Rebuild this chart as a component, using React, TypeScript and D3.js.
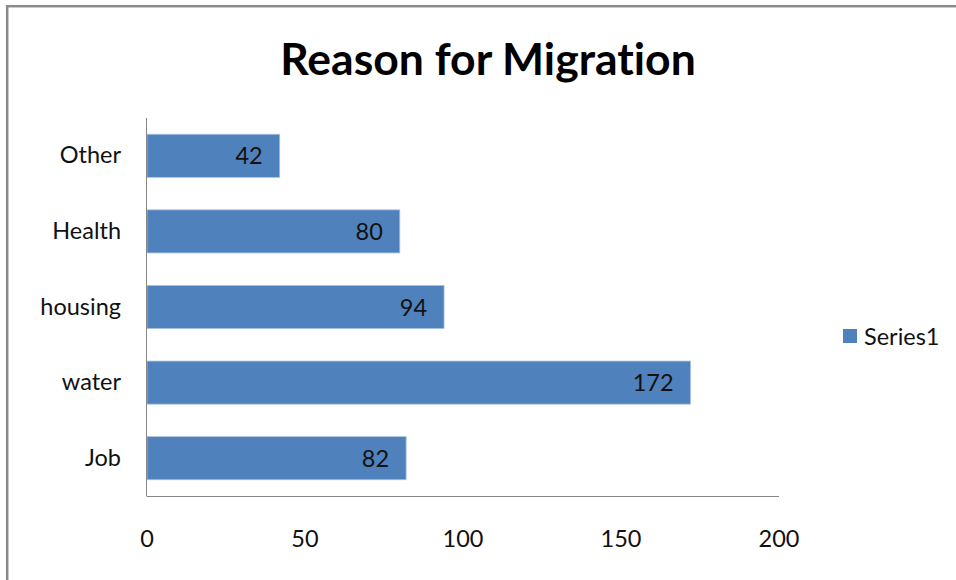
import React from "react";
import * as d3 from "d3";

const categories = ["Job", "water", "housing", "Health", "Other"];
const values = [82, 172, 94, 80, 42];
const xTicks = [0, 50, 100, 150, 200];
const seriesName = "Series1";
const title = "Reason for Migration";

const W = 956;
const H = 580;
const plot = { left: 147, right: 779, top: 118, bottom: 496 };
const FONT = "Lato, 'Open Sans', sans-serif";
const BAR = "#4F81BD";
const FS = 23.5;

export default function App() {
  const x = d3.scaleLinear().domain([0, 200]).range([plot.left, plot.right]);
  // Categories listed bottom-to-top, as in a horizontal bar chart
  const y = d3
    .scaleBand<string>()
    .domain([...categories].reverse())
    .range([plot.top, plot.bottom])
    .paddingInner(0.43)
    .paddingOuter(0.215);

  return (
    <svg
      width={W}
      height={H}
      style={{ position: "fixed", left: 0, top: 0, background: "#fff", fontVariantLigatures: "none" }}
      fontFamily={FONT}
    >
      <rect x={0} y={0} width={W} height={H} fill="#fff" />
      {/* chart frame */}
      <rect x={7.2} y={6.2} width={W + 20} height={H + 20} fill="none" stroke="#8a8a8a" strokeWidth={2.5} />

      <text x={488} y={75} textAnchor="middle" fontSize={44.5} fontWeight={700} fill="#000">
        {title}
      </text>

      {categories.map((c, i) => {
        const y0 = y(c)!;
        const bw = y.bandwidth();
        const v = values[i];
        return (
          <g key={c}>
            <rect
              x={x(0)}
              y={y0}
              width={x(v) - x(0)}
              height={bw}
              fill={BAR}
              stroke="#a9c1e0"
              strokeWidth={0.8}
            />
            <text x={x(v) - 17} y={y0 + bw / 2 + 8.5} textAnchor="end" fontSize={FS} fill="#111">
              {v}
            </text>
            <text x={121} y={y0 + bw / 2 + 7.5} textAnchor="end" fontSize={FS} fill="#111">
              {c}
            </text>
          </g>
        );
      })}

      {/* axes */}
      <line x1={plot.left - 0.5} x2={plot.left - 0.5} y1={plot.top} y2={plot.bottom} stroke="#868686" strokeWidth={1} />
      <line x1={plot.left - 0.5} x2={plot.right} y1={plot.bottom + 0.5} y2={plot.bottom + 0.5} stroke="#868686" strokeWidth={1} />

      {xTicks.map((t) => (
        <text key={t} x={x(t)} y={547} textAnchor="middle" fontSize={FS} fill="#111">
          {t}
        </text>
      ))}

      {/* legend */}
      <rect x={843} y={329} width={14} height={14} fill={BAR} />
      <text x={864} y={344.5} fontSize={FS} fill="#111">
        {seriesName}
      </text>
    </svg>
  );
}
